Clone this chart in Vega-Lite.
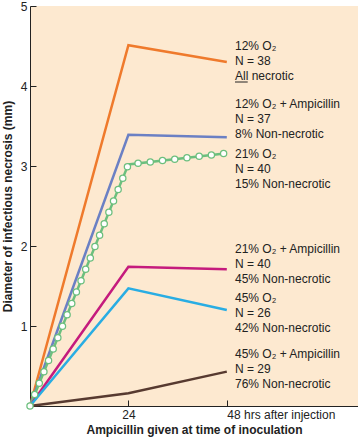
{
  "$schema": "https://vega.github.io/schema/vega-lite/v6.json",
  "width": 328,
  "height": 400,
  "autosize": {"type": "none"},
  "padding": {"left": 30, "top": 6, "right": 0, "bottom": 35},
  "background": "white",
  "config": {
    "view": {"fill": "#fde9d0", "stroke": null},
    "font": "Liberation Sans"
  },
  "datasets": {
    "lines": [
      {"series": "12% O2", "x": 0, "y": 0},
      {"series": "12% O2", "x": 24, "y": 4.51},
      {"series": "12% O2", "x": 48, "y": 4.3},
      {"series": "12% O2 + Ampicillin", "x": 0, "y": 0},
      {"series": "12% O2 + Ampicillin", "x": 24, "y": 3.39},
      {"series": "12% O2 + Ampicillin", "x": 48, "y": 3.36},
      {"series": "21% O2", "x": 0, "y": 0},
      {"series": "21% O2", "x": 24, "y": 3.02},
      {"series": "21% O2", "x": 48, "y": 3.16},
      {"series": "21% O2 + Ampicillin", "x": 0, "y": 0},
      {"series": "21% O2 + Ampicillin", "x": 24, "y": 1.74},
      {"series": "21% O2 + Ampicillin", "x": 48, "y": 1.71},
      {"series": "45% O2", "x": 0, "y": 0},
      {"series": "45% O2", "x": 24, "y": 1.47},
      {"series": "45% O2", "x": 48, "y": 1.2},
      {"series": "45% O2 + Ampicillin", "x": 0, "y": 0},
      {"series": "45% O2 + Ampicillin", "x": 24, "y": 0.16},
      {"series": "45% O2 + Ampicillin", "x": 48, "y": 0.43}
    ],
    "labels": [
      {"x": 50.0, "y": 4.56, "label": "12% O₂\nN = 38\nAll necrotic"},
      {"x": 50.0, "y": 3.84, "label": "12% O₂ + Ampicillin\nN = 37\n8% Non-necrotic"},
      {"x": 50.0, "y": 3.21, "label": "21% O₂\nN = 40\n15% Non-necrotic"},
      {"x": 50.0, "y": 2.02, "label": "21% O₂ + Ampicillin\nN = 40\n45% Non-necrotic"},
      {"x": 50.0, "y": 1.41, "label": "45% O₂\nN = 26\n42% Non-necrotic"},
      {"x": 50.0, "y": 0.71, "label": "45% O₂ + Ampicillin\nN = 29\n76% Non-necrotic"}
    ],
    "underline": [{"x": 50.0, "x2": 53.1, "y": 4.05}]
  },
  "layer": [
    {
      "data": {"name": "lines"},
      "mark": {"type": "line", "strokeWidth": 2.5},
      "encoding": {
        "x": {
          "field": "x", "type": "quantitative",
          "scale": {"domain": [0, 80], "nice": false},
          "axis": {
            "values": [24, 48],
            "title": "Ampicillin given at time of inoculation",
            "titleFontSize": 12, "titleFontWeight": "bold", "titleColor": "#222",
            "titlePadding": 4,
            "labelFontSize": 12, "labelColor": "#222", "labelFontWeight": "normal",
            "labelExpr": "datum.value == 48 ? '48 hrs after injection' : datum.label",
            "labelAlign": {"condition": {"test": "datum.value == 48", "value": "left"}, "value": "center"},
            "labelDx": {"condition": {"test": "datum.value == 48", "value": -7}, "value": 0},
            "labelPadding": 9,
            "tickSize": -6, "tickColor": "#222", "domainColor": "#222", "grid": false,
            "labelFlush": false
          }
        },
        "y": {
          "field": "y", "type": "quantitative",
          "scale": {"domain": [0, 5], "nice": false},
          "axis": {
            "values": [1, 2, 3, 4, 5],
            "format": "d",
            "title": "Diameter of infectious necrosis (mm)",
            "titleFontSize": 12, "titleFontWeight": "bold", "titleColor": "#222",
            "titlePadding": 6,
            "labelFontSize": 12, "labelColor": "#222",
            "labelPadding": 9,
            "tickSize": -6, "tickColor": "#222", "domainColor": "#222", "grid": false,
            "labelFlush": false
          }
        },
        "color": {
          "field": "series", "type": "nominal", "legend": null,
          "scale": {
            "domain": ["12% O2", "12% O2 + Ampicillin", "21% O2", "21% O2 + Ampicillin", "45% O2", "45% O2 + Ampicillin"],
            "range": ["#ef7a2c", "#6b80c4", "#6cbf7e", "#c51b7d", "#29ade3", "#573a30"]
          }
        },
        "detail": {"field": "series"}
      }
    },
    {
      "data": {"name": "lines"},
      "transform": [{"filter": "datum.series == '21% O2'"}],
      "mark": {"type": "line", "strokeWidth": 7.5, "strokeDash": [0, 12.3], "strokeCap": "round", "color": "#6cbf7e"},
      "encoding": {
        "x": {"field": "x", "type": "quantitative"},
        "y": {"field": "y", "type": "quantitative"}
      }
    },
    {
      "data": {"name": "lines"},
      "transform": [{"filter": "datum.series == '21% O2'"}],
      "mark": {"type": "line", "strokeWidth": 5, "strokeDash": [0, 12.3], "strokeCap": "round", "color": "#ffffff"},
      "encoding": {
        "x": {"field": "x", "type": "quantitative"},
        "y": {"field": "y", "type": "quantitative"}
      }
    },
    {
      "data": {"name": "labels"},
      "mark": {"type": "text", "align": "left", "baseline": "top", "fontSize": 12, "lineHeight": 15, "lineBreak": "\n", "color": "#222"},
      "encoding": {
        "x": {"field": "x", "type": "quantitative"},
        "y": {"field": "y", "type": "quantitative"},
        "text": {"field": "label"}
      }
    },
    {
      "data": {"name": "underline"},
      "mark": {"type": "rule", "color": "#222", "strokeWidth": 1},
      "encoding": {
        "x": {"field": "x", "type": "quantitative"},
        "x2": {"field": "x2"},
        "y": {"field": "y", "type": "quantitative"}
      }
    }
  ]
}
